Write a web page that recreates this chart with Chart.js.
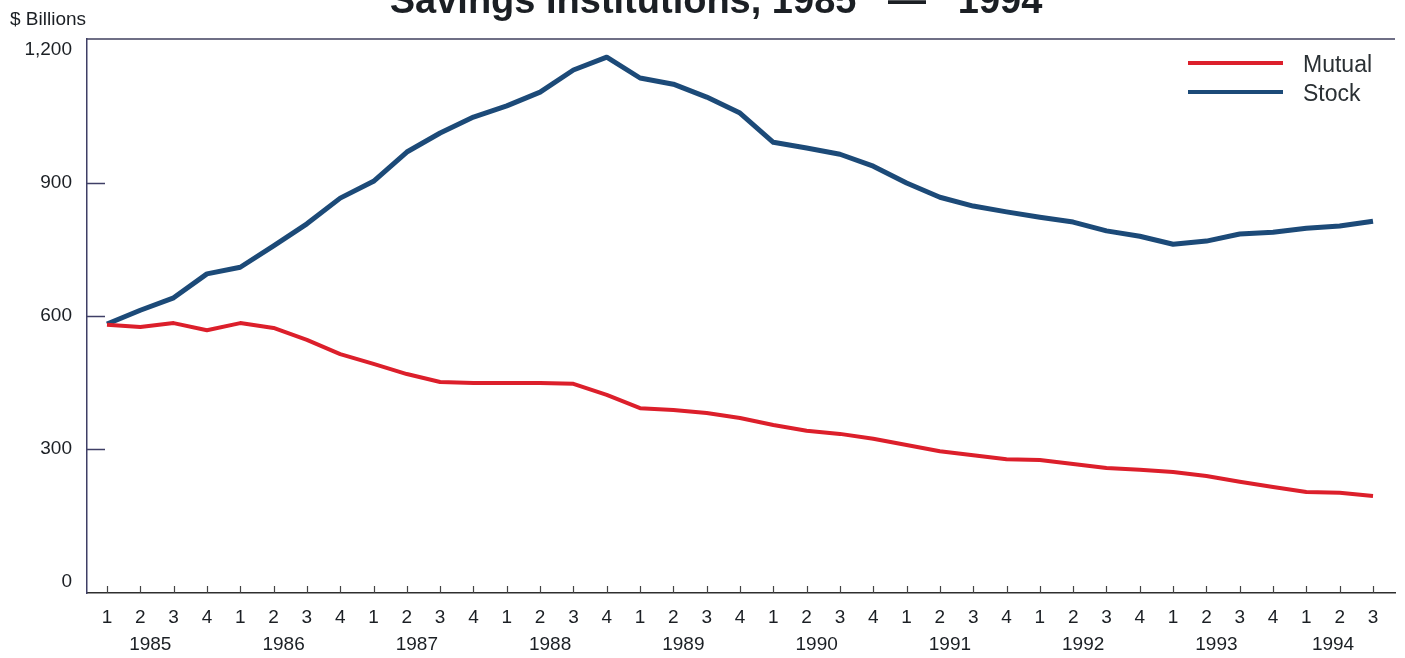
<!DOCTYPE html>
<html>
<head>
<meta charset="utf-8">
<script src="https://cdn.jsdelivr.net/npm/chart.js@4.4.1/dist/chart.umd.min.js"></script>
<style>
  html, body { margin: 0; padding: 0; background: #fff; }
  #wrap { width: 1405px; height: 658px; position: relative; }
</style>
</head>
<body>
<div id="wrap"><canvas id="assets"></canvas></div>
<script>
// Quarterly assets by ownership type, $ billions (1985 Q1 .. 1994 Q3)
const quarterLabels = [
  '1','2','3','4', '1','2','3','4', '1','2','3','4', '1','2','3','4', '1','2','3','4',
  '1','2','3','4', '1','2','3','4', '1','2','3','4', '1','2','3','4', '1','2','3'
];
const yearLabels = ['1985','1986','1987','1988','1989','1990','1991','1992','1993','1994'];
const valueTicks = [0, 300, 600, 900, 1200];
const innerTicks = [300, 600, 900];

const mutualAssets = [
  580, 575, 584, 568, 584, 573, 546, 514, 492, 469, 451, 449,
  449, 449, 447, 422, 392, 388, 381, 370, 354, 341, 334, 323,
  309, 295, 286, 277, 275, 266, 257, 253, 248, 239, 226, 214,
  203, 201, 194
];
const stockAssets = [
  582, 613, 641, 695, 710, 758, 808, 866, 904, 970, 1013, 1049,
  1074, 1105, 1155, 1184, 1137, 1123, 1094, 1058, 992, 979, 965, 938,
  900, 868, 848, 835, 823, 812, 792, 780, 762, 769, 785, 789,
  798, 803, 814
];

const FONT = 'Liberation Sans, Arial, Helvetica, sans-serif';
const INK = '#1b1f24';

// year label sits near the middle of its quarters, nudged a little left
const yearTickValues = yearLabels.map((_, y) => {
  const idx = quarterLabels.map((_, i) => i).filter(i => Math.floor(i / 4) === y);
  return idx.reduce((a, b) => a + b, 0) / idx.length - 0.2;
});

const xMin = -0.6, xMax = quarterLabels.length - 1 + 0.66;

// frame, inward tick marks, heading and key
const decorations = {
  id: 'decorations',
  afterDraw(chart) {
    const { ctx, chartArea: a, scales } = chart;
    ctx.save();

    // top frame line
    ctx.strokeStyle = '#3f3f5e';
    ctx.lineWidth = 1.5;
    ctx.beginPath();
    ctx.moveTo(a.left, a.top);
    ctx.lineTo(a.right, a.top);
    ctx.stroke();

    // y ticks pointing into the plot
    ctx.strokeStyle = '#3f3f66';
    ctx.lineWidth = 1.5;
    innerTicks.forEach(v => {
      const y = Math.round(scales.y.getPixelForValue(v)) + 0.5;
      ctx.beginPath();
      ctx.moveTo(a.left, y);
      ctx.lineTo(a.left + 18, y);
      ctx.stroke();
    });

    // quarter ticks standing up from the baseline
    ctx.strokeStyle = '#444';
    ctx.lineWidth = 1.2;
    quarterLabels.forEach((_, i) => {
      const x = Math.round(scales.x.getPixelForValue(i)) + 0.5;
      ctx.beginPath();
      ctx.moveTo(x, a.bottom);
      ctx.lineTo(x, a.bottom - 7);
      ctx.stroke();
    });

    // heading (runs off the top edge)
    ctx.fillStyle = INK;
    ctx.textAlign = 'center';
    ctx.textBaseline = 'alphabetic';
    ctx.font = 'bold 38px ' + FONT;
    ctx.fillText('Savings Institutions, 1985   \u2014   1994', 716, 13);

    // unit label
    ctx.textAlign = 'left';
    ctx.font = '19px ' + FONT;
    ctx.fillText('$ Billions', 10, 25);

    // key
    ctx.font = '23px ' + FONT;
    ctx.textBaseline = 'middle';
    chart.data.datasets.forEach((ds, k) => {
      const y = 63 + k * 29;
      ctx.strokeStyle = ds.borderColor;
      ctx.lineWidth = 4;
      ctx.beginPath();
      ctx.moveTo(1188, y);
      ctx.lineTo(1283, y);
      ctx.stroke();
      ctx.fillStyle = '#2a3034';
      ctx.fillText(ds.label, 1303, y + 3);
    });

    ctx.restore();
  }
};

new Chart(document.getElementById('assets'), {
  type: 'line',
  data: {
    datasets: [
      {
        label: 'Mutual',
        data: mutualAssets.map((v, i) => ({ x: i, y: v })),
        borderColor: '#dc1f2b',
        borderWidth: 4,
        pointRadius: 0,
        tension: 0,
        borderJoinStyle: 'round',
        xAxisID: 'x',
      },
      {
        label: 'Stock',
        data: stockAssets.map((v, i) => ({ x: i, y: v })),
        borderColor: '#1c4a78',
        borderWidth: 5,
        pointRadius: 0,
        tension: 0,
        borderJoinStyle: 'round',
        xAxisID: 'x',
      },
    ],
  },
  options: {
    responsive: true,
    maintainAspectRatio: false,
    animation: false,
    layout: { padding: { top: 39, right: 10, left: 0, bottom: 0 } },
    plugins: {
      legend: { display: false },
      tooltip: { enabled: false },
      title: { display: false },
    },
    scales: {
      x: {
        type: 'linear',
        position: 'bottom',
        weight: 1,
        min: xMin,
        max: xMax,
        afterBuildTicks: s => { s.ticks = quarterLabels.map((_, i) => ({ value: i })); },
        afterFit: s => { s.height = 38; },
        ticks: {
          autoSkip: false,
          maxRotation: 0,
          padding: 13,
          color: INK,
          font: { family: FONT, size: 19 },
          callback: (v, i) => quarterLabels[i],
        },
        grid: { display: false, drawTicks: false },
        border: { display: true, color: '#2e2e2e', width: 1.5 },
      },
      years: {
        type: 'linear',
        position: 'bottom',
        weight: 2,
        min: xMin,
        max: xMax,
        afterBuildTicks: s => { s.ticks = yearTickValues.map(v => ({ value: v })); },
        afterFit: s => { s.height = 27; },
        ticks: {
          autoSkip: false,
          maxRotation: 0,
          padding: 2,
          color: INK,
          font: { family: FONT, size: 19 },
          callback: (v, i) => yearLabels[i],
        },
        grid: { display: false, drawTicks: false },
        border: { display: false },
      },
      y: {
        min: -25,
        max: 1225,
        afterBuildTicks: s => { s.ticks = valueTicks.map(v => ({ value: v })); },
        afterFit: s => { s.width = 87; },
        ticks: {
          padding: 15,
          color: INK,
          font: { family: FONT, size: 19 },
          callback: v => v.toLocaleString('en-US'),
        },
        grid: { display: false, drawTicks: false },
        border: { display: true, color: '#3f3f66', width: 1.5 },
      },
    },
  },
  plugins: [decorations],
});
</script>
</body>
</html>
